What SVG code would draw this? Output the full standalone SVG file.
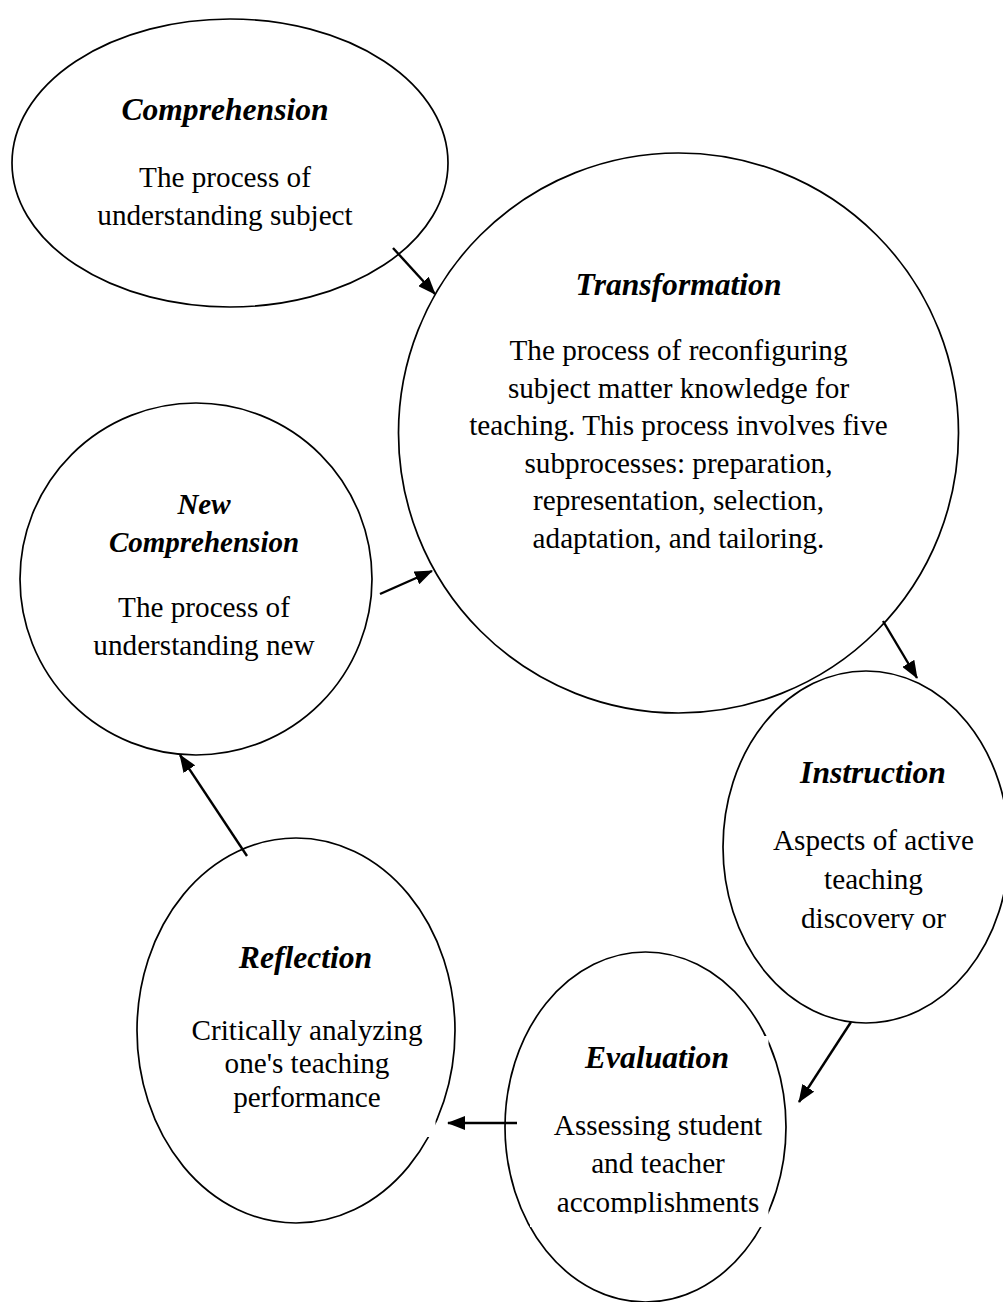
<svg xmlns="http://www.w3.org/2000/svg" width="1003" height="1302" viewBox="0 0 1003 1302">
  <style>
    .shape { fill: #ffffff; stroke: #000000; stroke-width: 1.7; }
    .pad { fill: #ffffff; stroke: none; }
    .title { font-family: "Liberation Serif", "Times New Roman", serif; font-size: 31.6px; font-weight: bold; font-style: italic; fill: #000000; text-anchor: middle; }
    .title.small { font-size: 29px; }
    .body { font-family: "Liberation Serif", "Times New Roman", serif; font-size: 29.2px; fill: #000000; text-anchor: middle; }
    .link { stroke: #000000; stroke-width: 2.4; fill: none; marker-end: url(#head); }
  </style>
  <defs>
    <marker id="head" viewBox="0 0 18 14" refX="17" refY="7" markerWidth="18" markerHeight="14" markerUnits="userSpaceOnUse" orient="auto">
      <path d="M0,0 L18,7 L0,14 Z" fill="#000000"/>
    </marker>
    <clipPath id="clip-instruction">
      <rect x="740" y="740" width="260" height="190"/>
    </clipPath>
    <clipPath id="clip-evaluation">
      <rect x="520" y="1036" width="250" height="177.5"/>
    </clipPath>
  </defs>

  <rect x="0" y="0" width="1003" height="1302" fill="#ffffff"/>

  <!-- Comprehension -->
  <g id="comprehension">
    <ellipse class="shape" cx="230" cy="163" rx="218" ry="144"/>
    <text class="title" x="225" y="120">Comprehension</text>
    <text class="body" x="225" y="187">The process of</text>
    <text class="body" x="225" y="225">understanding subject</text>
  </g>

  <!-- Transformation -->
  <g id="transformation">
    <circle class="shape" cx="678.5" cy="433" r="280"/>
    <text class="title" x="678.5" y="295">Transformation</text>
    <text class="body" x="678.5" y="360">The process of reconfiguring</text>
    <text class="body" x="678.5" y="397.6">subject matter knowledge for</text>
    <text class="body" x="678.5" y="435.2">teaching. This process involves five</text>
    <text class="body" x="678.5" y="472.8">subprocesses: preparation,</text>
    <text class="body" x="678.5" y="510.4">representation, selection,</text>
    <text class="body" x="678.5" y="548">adaptation, and tailoring.</text>
  </g>

  <!-- New Comprehension -->
  <g id="new-comprehension">
    <circle class="shape" cx="196" cy="579" r="176"/>
    <text class="title small" x="204" y="514">New</text>
    <text class="title small" x="204" y="552">Comprehension</text>
    <text class="body" x="204" y="617">The process of</text>
    <text class="body" x="204" y="655">understanding new</text>
  </g>

  <!-- Instruction -->
  <g id="instruction">
    <ellipse class="shape" cx="866" cy="847" rx="143" ry="176"/>
    <text class="title" x="873" y="783">Instruction</text>
    <g clip-path="url(#clip-instruction)">
      <text class="body" x="873.5" y="850">Aspects of active</text>
      <text class="body" x="873.5" y="889">teaching</text>
      <text class="body" x="873.5" y="928">discovery or</text>
    </g>
  </g>

  <!-- Evaluation -->
  <g id="evaluation">
    <ellipse class="shape" cx="645.5" cy="1127" rx="140.5" ry="175"/>
    <rect class="pad" x="530" y="1036" width="238.5" height="191"/>
    <text class="title" x="657" y="1068">Evaluation</text>
    <g clip-path="url(#clip-evaluation)">
      <text class="body" x="658" y="1135">Assessing student</text>
      <text class="body" x="658" y="1173">and teacher</text>
      <text class="body" x="658" y="1211.5">accomplishments</text>
    </g>
  </g>

  <!-- Reflection -->
  <g id="reflection">
    <ellipse class="shape" cx="296" cy="1030.5" rx="159" ry="192.5"/>
    <rect class="pad" x="170" y="950" width="265.5" height="187"/>
    <text class="title" x="305.5" y="968">Reflection</text>
    <text class="body" x="307" y="1039.5">Critically analyzing</text>
    <text class="body" x="307" y="1073.3">one's teaching</text>
    <text class="body" x="307" y="1107">performance</text>
  </g>

  <!-- Cycle connectors -->
  <g id="connectors">
    <line class="link" x1="393" y1="248" x2="435" y2="294"/>
    <line class="link" x1="883" y1="621" x2="917" y2="678"/>
    <line class="link" x1="851" y1="1022" x2="799" y2="1102"/>
    <line class="link" x1="517" y1="1123" x2="448" y2="1123"/>
    <line class="link" x1="247" y1="856" x2="180" y2="755"/>
    <line class="link" x1="380" y1="594" x2="432" y2="571"/>
  </g>
</svg>
